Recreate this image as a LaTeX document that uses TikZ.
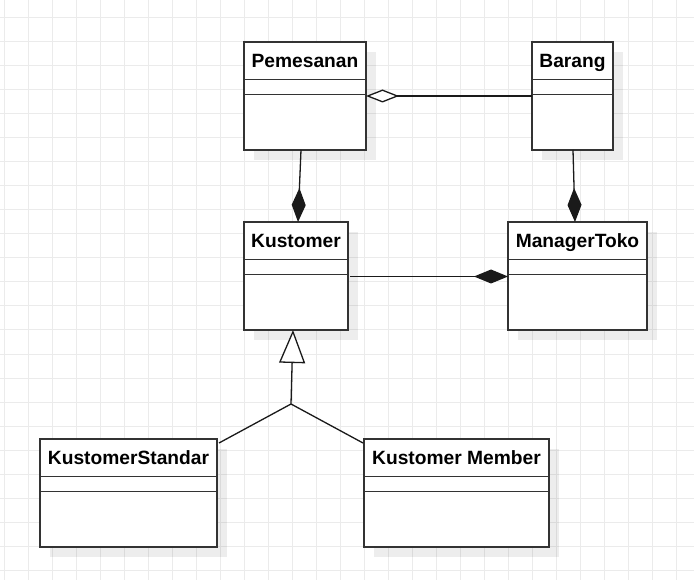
\documentclass[tikz,border=0pt]{standalone}
\usepackage{fontspec}
\setmainfont{Liberation Sans}
\usetikzlibrary{arrows.meta,calc}
\definecolor{gridc}{HTML}{EBEBEB}
\definecolor{boxc}{HTML}{333333}
\definecolor{linec}{HTML}{1A1A1A}
\tikzset{
  gridline/.style={draw=gridc, line width=1pt},
  shadowc/.style={fill=black, fill opacity=0.07},
  clsbox/.style={draw=boxc, fill=white, line width=1.5pt, rectangle, inner sep=0pt, outer sep=0pt},
  clsline/.style={draw=boxc, line width=1.5pt},
  clstitle/.style={font=\fontsize{19.2}{23}\selectfont\bfseries, inner sep=0pt, anchor=base},
  conn/.style={draw=linec, line width=1.3pt},
  compo/.style={conn, -{Diamond[length=34pt, width=14pt, fill=linec]}},
  aggr/.style={conn, -{Diamond[open, length=33pt, width=13pt, fill=white]}},
  gener/.style={conn, -{Triangle[open, length=33pt, width=26pt, fill=white]}}
}
\newcommand\umlcls[5]{%
  \fill[shadowc] (#2+10,#3+10) rectangle ++(#4,108);
  \node[clsbox, anchor=north west, minimum width=#4pt, minimum height=108pt] (#1) at (#2,#3) {};
  \draw[clsline] ($(#1.north west)+(0,37.5)$) -- ($(#1.north east)+(0,37.5)$);
  \draw[clsline] ($(#1.north west)+(0,52.5)$) -- ($(#1.north east)+(0,52.5)$);
  \node[clstitle] (#1-t) at ($(#1.north)+(0,25.4)$) {#5};
}
\begin{document}
\begin{tikzpicture}[x=1pt, y=-1pt]
\useasboundingbox (0,0) rectangle (694,580);
\fill[white] (0,0) rectangle (694,580);
\foreach \x in {4,28,...,700} \draw[gridline] (\x,0) -- (\x,580);
\foreach \y in {18,42,...,580} \draw[gridline] (0,\y) -- (694,\y);

\umlcls{pem}{244}{42}{122}{Pemesanan}
\umlcls{bar}{532}{42}{81}{Barang}
\umlcls{kus}{244}{222}{104}{Kustomer}
\umlcls{mgr}{508}{222}{139}{ManagerToko}
\umlcls{ks}{40}{439}{177}{KustomerStandar}
\umlcls{km}{364}{439}{185}{Kustomer Member}

% aggregation Barang -> Pemesanan
\draw[aggr] ($(bar.north west)+(0,54)$) -- ($(pem.north east)+(0,54)$);
% composition Pemesanan -> Kustomer
\draw[compo] ($(pem.south west)+(57,0)$) -- ($(kus.north west)+(54,0)$);
% composition Barang -> ManagerToko
\draw[compo] ($(bar.south west)+(41,0)$) -- ($(mgr.north west)+(67,0)$);
% composition Kustomer -> ManagerToko
\draw[compo] ($(kus.north east)+(2,54.5)$) -- ($(mgr.north west)+(0,54.5)$);
% generalisation
\coordinate (j) at (291,404);
\draw[conn] ($(ks.north east)+(2,4)$) -- (j);
\draw[conn] ($(km.north west)+(-1,4)$) -- (j);
\draw[gener] (j) -- ($(kus.south west)+(49,0)$);
\end{tikzpicture}
\end{document}
